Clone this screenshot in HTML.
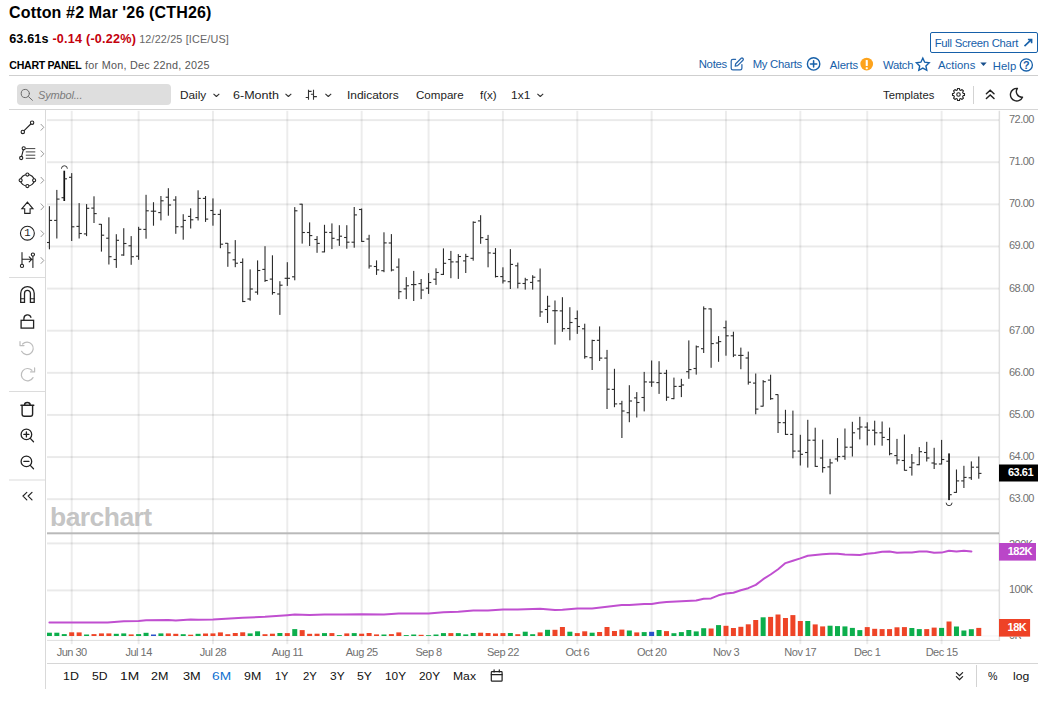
<!DOCTYPE html>
<html><head><meta charset="utf-8"><title>Cotton #2 Mar '26 (CTH26)</title>
<style>
html,body{margin:0;padding:0;background:#fff;}
body{width:1055px;height:713px;position:relative;overflow:hidden;font-family:"Liberation Sans",sans-serif;color:#000;}
.t{position:absolute;white-space:nowrap;line-height:1;}
.hr{position:absolute;background:#cfcfcf;height:1px;}
.vr{position:absolute;background:#d9d9d9;width:1px;}
.lnk{color:#1660a9;font-size:11.3px;}
.tb{font-size:11.5px;color:#1d1d1d;}
.ax{font-size:11px;color:#707070;letter-spacing:-0.55px;}
.xl{font-size:11px;color:#707070;text-align:center;width:60px;letter-spacing:-0.5px;}
.tag{font-size:11px;font-weight:bold;color:#fff;text-align:right;letter-spacing:-0.5px;}
.rg{font-size:11.6px;color:#111;}
</style></head><body>
<svg width="1055" height="713" viewBox="0 0 1055 713" style="position:absolute;left:0;top:0">
<rect x="47" y="119.10" width="952" height="2" fill="#000" fill-opacity="0.082"/>
<rect x="47" y="161.22" width="952" height="2" fill="#000" fill-opacity="0.082"/>
<rect x="47" y="203.34" width="952" height="2" fill="#000" fill-opacity="0.082"/>
<rect x="47" y="245.46" width="952" height="2" fill="#000" fill-opacity="0.082"/>
<rect x="47" y="287.58" width="952" height="2" fill="#000" fill-opacity="0.082"/>
<rect x="47" y="329.70" width="952" height="2" fill="#000" fill-opacity="0.082"/>
<rect x="47" y="371.82" width="952" height="2" fill="#000" fill-opacity="0.082"/>
<rect x="47" y="413.94" width="952" height="2" fill="#000" fill-opacity="0.082"/>
<rect x="47" y="456.06" width="952" height="2" fill="#000" fill-opacity="0.082"/>
<rect x="47" y="498.18" width="952" height="2" fill="#000" fill-opacity="0.082"/>
<rect x="47" y="542.40" width="952" height="2" fill="#000" fill-opacity="0.082"/>
<rect x="47" y="589.40" width="952" height="2" fill="#000" fill-opacity="0.082"/>
<rect x="47" y="635.4" width="952" height="1" fill="#000" fill-opacity="0.05"/>
<rect x="70.70" y="110.8" width="2" height="533.4" fill="#000" fill-opacity="0.076"/>
<rect x="137.62" y="110.8" width="2" height="533.4" fill="#000" fill-opacity="0.076"/>
<rect x="211.96" y="110.8" width="2" height="533.4" fill="#000" fill-opacity="0.076"/>
<rect x="286.31" y="110.8" width="2" height="533.4" fill="#000" fill-opacity="0.076"/>
<rect x="360.66" y="110.8" width="2" height="533.4" fill="#000" fill-opacity="0.076"/>
<rect x="427.58" y="110.8" width="2" height="533.4" fill="#000" fill-opacity="0.076"/>
<rect x="501.93" y="110.8" width="2" height="533.4" fill="#000" fill-opacity="0.076"/>
<rect x="576.28" y="110.8" width="2" height="533.4" fill="#000" fill-opacity="0.076"/>
<rect x="650.63" y="110.8" width="2" height="533.4" fill="#000" fill-opacity="0.076"/>
<rect x="724.98" y="110.8" width="2" height="533.4" fill="#000" fill-opacity="0.076"/>
<rect x="799.33" y="110.8" width="2" height="533.4" fill="#000" fill-opacity="0.076"/>
<rect x="866.25" y="110.8" width="2" height="533.4" fill="#000" fill-opacity="0.076"/>
<rect x="940.60" y="110.8" width="2" height="533.4" fill="#000" fill-opacity="0.076"/>
<rect x="47" y="532.3" width="952" height="2" fill="#b9b9b9"/>
<rect x="998.6" y="110.8" width="1.5" height="530.2" fill="#000" fill-opacity="0.125"/>
<rect x="47" y="639.9" width="951.6" height="1" fill="#000" fill-opacity="0.13"/>
<text x="50" y="526.3" font-family="Liberation Sans, sans-serif" font-weight="bold" font-size="26.5" letter-spacing="-0.55" fill="#bdbdbd" fill-opacity="0.9">barchart</text>
<path d="M49.4,622.4 L79.1,622.4 L107.6,622.4 L123.8,621.3 L138.6,620.9 L146.1,620.3 L168.4,620.0 L175.8,620.6 L190.7,619.5 L198.1,619.7 L213.1,619.5 L242.6,617.7 L265.0,616.8 L287.3,615.2 L294.8,614.6 L309.6,615.0 L324.5,614.6 L342.9,614.6 L361.6,614.2 L384.0,614.5 L398.7,613.6 L428.6,613.5 L443.4,612.3 L458.3,611.8 L473.3,610.6 L488.0,610.4 L503.0,609.6 L517.7,609.6 L540.1,608.8 L555.0,609.9 L562.4,609.8 L577.3,608.5 L592.1,608.5 L607.0,606.8 L621.8,605.0 L629.4,605.0 L644.2,604.0 L651.7,604.1 L659.1,602.7 L666.5,601.9 L681.4,601.2 L696.2,600.5 L703.7,598.7 L711.1,598.4 L718.5,595.3 L726.0,593.6 L733.4,592.7 L740.8,590.3 L748.2,588.2 L755.8,584.9 L763.2,579.2 L770.6,574.5 L778.1,569.2 L785.5,563.1 L792.9,560.7 L800.3,558.4 L807.8,555.8 L815.2,555.0 L822.5,554.3 L830.0,553.7 L837.6,553.7 L844.9,554.4 L852.4,554.7 L859.8,555.0 L867.1,553.7 L874.7,553.0 L882.2,551.8 L889.5,551.6 L897.0,552.7 L904.4,552.5 L911.9,552.4 L919.3,551.6 L926.8,551.6 L934.1,552.8 L941.6,552.6 L949.0,550.7 L956.5,551.4 L963.9,550.7 L971.4,551.4" fill="none" stroke="#c04fd0" stroke-width="2" stroke-linejoin="round" stroke-linecap="round"/>
<rect x="47.00" y="632.70" width="4.90" height="3.30" fill="#0cae4c"/>
<rect x="54.33" y="632.70" width="5.00" height="3.30" fill="#0cae4c"/>
<rect x="61.77" y="634.10" width="5.00" height="1.90" fill="#0cae4c"/>
<rect x="69.20" y="632.30" width="5.00" height="3.70" fill="#ee4427"/>
<rect x="76.64" y="632.40" width="5.00" height="3.60" fill="#ee4427"/>
<rect x="84.07" y="634.50" width="5.00" height="1.50" fill="#0cae4c"/>
<rect x="91.50" y="634.10" width="5.00" height="1.90" fill="#ee4427"/>
<rect x="98.94" y="633.40" width="5.00" height="2.60" fill="#ee4427"/>
<rect x="106.38" y="633.40" width="5.00" height="2.60" fill="#ee4427"/>
<rect x="113.81" y="633.80" width="5.00" height="2.20" fill="#0cae4c"/>
<rect x="121.25" y="633.40" width="5.00" height="2.60" fill="#0cae4c"/>
<rect x="128.68" y="634.40" width="5.00" height="1.60" fill="#ee4427"/>
<rect x="136.12" y="634.10" width="5.00" height="1.90" fill="#0cae4c"/>
<rect x="143.55" y="632.80" width="5.00" height="3.20" fill="#0cae4c"/>
<rect x="150.99" y="634.50" width="5.00" height="1.50" fill="#2a52c9"/>
<rect x="158.42" y="633.40" width="5.00" height="2.60" fill="#0cae4c"/>
<rect x="165.86" y="633.40" width="5.00" height="2.60" fill="#ee4427"/>
<rect x="173.29" y="633.80" width="5.00" height="2.20" fill="#ee4427"/>
<rect x="180.72" y="634.20" width="5.00" height="1.80" fill="#0cae4c"/>
<rect x="188.16" y="634.70" width="5.00" height="1.30" fill="#ee4427"/>
<rect x="195.59" y="633.80" width="5.00" height="2.20" fill="#0cae4c"/>
<rect x="203.03" y="633.50" width="5.00" height="2.50" fill="#ee4427"/>
<rect x="210.46" y="633.40" width="5.00" height="2.60" fill="#ee4427"/>
<rect x="217.90" y="632.40" width="5.00" height="3.60" fill="#ee4427"/>
<rect x="225.33" y="634.20" width="5.00" height="1.80" fill="#ee4427"/>
<rect x="232.77" y="633.00" width="5.00" height="3.00" fill="#ee4427"/>
<rect x="240.20" y="632.30" width="5.00" height="3.70" fill="#ee4427"/>
<rect x="247.64" y="633.40" width="5.00" height="2.60" fill="#0cae4c"/>
<rect x="255.07" y="631.30" width="5.00" height="4.70" fill="#0cae4c"/>
<rect x="262.51" y="634.20" width="5.00" height="1.80" fill="#ee4427"/>
<rect x="269.94" y="633.70" width="5.00" height="2.30" fill="#ee4427"/>
<rect x="277.38" y="633.00" width="5.00" height="3.00" fill="#0cae4c"/>
<rect x="284.81" y="633.10" width="5.00" height="2.90" fill="#ee4427"/>
<rect x="292.25" y="629.10" width="5.00" height="6.90" fill="#0cae4c"/>
<rect x="299.69" y="630.10" width="5.00" height="5.90" fill="#ee4427"/>
<rect x="307.12" y="633.80" width="5.00" height="2.20" fill="#ee4427"/>
<rect x="314.56" y="633.70" width="5.00" height="2.30" fill="#ee4427"/>
<rect x="321.99" y="633.10" width="5.00" height="2.90" fill="#0cae4c"/>
<rect x="329.42" y="633.10" width="5.00" height="2.90" fill="#ee4427"/>
<rect x="336.86" y="635.10" width="5.00" height="0.90" fill="#0cae4c"/>
<rect x="344.29" y="633.40" width="5.00" height="2.60" fill="#ee4427"/>
<rect x="351.73" y="633.10" width="5.00" height="2.90" fill="#0cae4c"/>
<rect x="359.16" y="633.70" width="5.00" height="2.30" fill="#ee4427"/>
<rect x="366.60" y="633.00" width="5.00" height="3.00" fill="#ee4427"/>
<rect x="374.03" y="634.40" width="5.00" height="1.60" fill="#ee4427"/>
<rect x="381.47" y="634.50" width="5.00" height="1.50" fill="#0cae4c"/>
<rect x="388.90" y="634.10" width="5.00" height="1.90" fill="#ee4427"/>
<rect x="396.34" y="632.40" width="5.00" height="3.60" fill="#ee4427"/>
<rect x="403.77" y="635.10" width="5.00" height="0.90" fill="#0cae4c"/>
<rect x="411.21" y="634.50" width="5.00" height="1.50" fill="#0cae4c"/>
<rect x="418.64" y="634.80" width="5.00" height="1.20" fill="#ee4427"/>
<rect x="426.08" y="635.20" width="5.00" height="0.80" fill="#0cae4c"/>
<rect x="433.51" y="634.50" width="5.00" height="1.50" fill="#0cae4c"/>
<rect x="440.95" y="633.10" width="5.00" height="2.90" fill="#0cae4c"/>
<rect x="448.38" y="633.10" width="5.00" height="2.90" fill="#ee4427"/>
<rect x="455.82" y="633.10" width="5.00" height="2.90" fill="#0cae4c"/>
<rect x="463.25" y="634.40" width="5.00" height="1.60" fill="#0cae4c"/>
<rect x="470.69" y="633.00" width="5.00" height="3.00" fill="#0cae4c"/>
<rect x="478.12" y="632.70" width="5.00" height="3.30" fill="#ee4427"/>
<rect x="485.56" y="633.00" width="5.00" height="3.00" fill="#ee4427"/>
<rect x="492.99" y="633.50" width="5.00" height="2.50" fill="#ee4427"/>
<rect x="500.43" y="633.10" width="5.00" height="2.90" fill="#ee4427"/>
<rect x="507.86" y="633.00" width="5.00" height="3.00" fill="#0cae4c"/>
<rect x="515.30" y="634.20" width="5.00" height="1.80" fill="#ee4427"/>
<rect x="522.74" y="631.70" width="5.00" height="4.30" fill="#0cae4c"/>
<rect x="530.17" y="634.20" width="5.00" height="1.80" fill="#0cae4c"/>
<rect x="537.61" y="632.40" width="5.00" height="3.60" fill="#ee4427"/>
<rect x="545.04" y="629.80" width="5.00" height="6.20" fill="#0cae4c"/>
<rect x="552.48" y="629.80" width="5.00" height="6.20" fill="#ee4427"/>
<rect x="559.91" y="627.00" width="5.00" height="9.00" fill="#ee4427"/>
<rect x="567.35" y="631.70" width="5.00" height="4.30" fill="#0cae4c"/>
<rect x="574.78" y="633.10" width="5.00" height="2.90" fill="#ee4427"/>
<rect x="582.22" y="631.30" width="5.00" height="4.70" fill="#ee4427"/>
<rect x="589.65" y="632.70" width="5.00" height="3.30" fill="#0cae4c"/>
<rect x="597.09" y="632.00" width="5.00" height="4.00" fill="#ee4427"/>
<rect x="604.52" y="627.00" width="5.00" height="9.00" fill="#ee4427"/>
<rect x="611.96" y="631.00" width="5.00" height="5.00" fill="#ee4427"/>
<rect x="619.39" y="629.60" width="5.00" height="6.40" fill="#ee4427"/>
<rect x="626.83" y="630.50" width="5.00" height="5.50" fill="#0cae4c"/>
<rect x="634.26" y="632.40" width="5.00" height="3.60" fill="#ee4427"/>
<rect x="641.70" y="632.10" width="5.00" height="3.90" fill="#0cae4c"/>
<rect x="649.13" y="631.80" width="5.00" height="4.20" fill="#2a52c9"/>
<rect x="656.57" y="630.00" width="5.00" height="6.00" fill="#0cae4c"/>
<rect x="664.00" y="631.10" width="5.00" height="4.90" fill="#ee4427"/>
<rect x="671.44" y="633.20" width="5.00" height="2.80" fill="#0cae4c"/>
<rect x="678.87" y="632.10" width="5.00" height="3.90" fill="#0cae4c"/>
<rect x="686.31" y="630.00" width="5.00" height="6.00" fill="#0cae4c"/>
<rect x="693.74" y="631.40" width="5.00" height="4.60" fill="#0cae4c"/>
<rect x="701.18" y="628.20" width="5.00" height="7.80" fill="#0cae4c"/>
<rect x="708.61" y="628.50" width="5.00" height="7.50" fill="#ee4427"/>
<rect x="716.04" y="625.10" width="5.00" height="10.90" fill="#0cae4c"/>
<rect x="723.48" y="625.80" width="5.00" height="10.20" fill="#ee4427"/>
<rect x="730.91" y="628.00" width="5.00" height="8.00" fill="#ee4427"/>
<rect x="738.35" y="626.80" width="5.00" height="9.20" fill="#ee4427"/>
<rect x="745.78" y="624.30" width="5.00" height="11.70" fill="#ee4427"/>
<rect x="753.22" y="620.00" width="5.00" height="16.00" fill="#ee4427"/>
<rect x="760.65" y="617.30" width="5.00" height="18.70" fill="#0cae4c"/>
<rect x="768.09" y="616.90" width="5.00" height="19.10" fill="#ee4427"/>
<rect x="775.52" y="614.50" width="5.00" height="21.50" fill="#ee4427"/>
<rect x="782.96" y="618.00" width="5.00" height="18.00" fill="#ee4427"/>
<rect x="790.39" y="615.10" width="5.00" height="20.90" fill="#ee4427"/>
<rect x="797.83" y="621.00" width="5.00" height="15.00" fill="#ee4427"/>
<rect x="805.26" y="621.00" width="5.00" height="15.00" fill="#0cae4c"/>
<rect x="812.70" y="624.40" width="5.00" height="11.60" fill="#ee4427"/>
<rect x="820.13" y="626.40" width="5.00" height="9.60" fill="#ee4427"/>
<rect x="827.57" y="625.70" width="5.00" height="10.30" fill="#0cae4c"/>
<rect x="835.00" y="626.10" width="5.00" height="9.90" fill="#0cae4c"/>
<rect x="842.44" y="626.40" width="5.00" height="9.60" fill="#0cae4c"/>
<rect x="849.88" y="627.90" width="5.00" height="8.10" fill="#0cae4c"/>
<rect x="857.31" y="630.10" width="5.00" height="5.90" fill="#0cae4c"/>
<rect x="864.75" y="627.10" width="5.00" height="8.90" fill="#ee4427"/>
<rect x="872.18" y="628.80" width="5.00" height="7.20" fill="#ee4427"/>
<rect x="879.62" y="629.10" width="5.00" height="6.90" fill="#ee4427"/>
<rect x="887.05" y="629.10" width="5.00" height="6.90" fill="#ee4427"/>
<rect x="894.49" y="627.30" width="5.00" height="8.70" fill="#ee4427"/>
<rect x="901.92" y="627.10" width="5.00" height="8.90" fill="#ee4427"/>
<rect x="909.36" y="628.00" width="5.00" height="8.00" fill="#0cae4c"/>
<rect x="916.79" y="629.10" width="5.00" height="6.90" fill="#0cae4c"/>
<rect x="924.23" y="629.10" width="5.00" height="6.90" fill="#ee4427"/>
<rect x="931.66" y="627.60" width="5.00" height="8.40" fill="#ee4427"/>
<rect x="939.10" y="627.90" width="5.00" height="8.10" fill="#0cae4c"/>
<rect x="946.53" y="621.50" width="5.00" height="14.50" fill="#ee4427"/>
<rect x="953.97" y="626.50" width="5.00" height="9.50" fill="#0cae4c"/>
<rect x="961.40" y="630.50" width="5.00" height="5.50" fill="#0cae4c"/>
<rect x="968.84" y="629.20" width="5.00" height="6.80" fill="#0cae4c"/>
<rect x="976.27" y="627.90" width="5.00" height="8.10" fill="#ee4427"/>
<rect x="48.85" y="206.20" width="1.1" height="43.10" fill="#2b2b2b"/>
<rect x="47.00" y="241.95" width="2.40" height="1.1" fill="#2b2b2b"/>
<rect x="49.40" y="219.85" width="2.7" height="1.1" fill="#2b2b2b"/>
<rect x="56.28" y="189.90" width="1.1" height="48.60" fill="#2b2b2b"/>
<rect x="54.13" y="219.85" width="2.70" height="1.1" fill="#2b2b2b"/>
<rect x="56.83" y="198.55" width="2.7" height="1.1" fill="#2b2b2b"/>
<rect x="63.41" y="170.70" width="1.7" height="30.30" fill="#111"/>
<rect x="61.56" y="197.15" width="2.70" height="1.1" fill="#2b2b2b"/>
<rect x="64.27" y="178.25" width="2.7" height="1.1" fill="#2b2b2b"/>
<rect x="71.15" y="173.10" width="1.1" height="67.90" fill="#2b2b2b"/>
<rect x="69.00" y="176.75" width="2.70" height="1.1" fill="#2b2b2b"/>
<rect x="71.70" y="226.25" width="2.7" height="1.1" fill="#2b2b2b"/>
<rect x="78.59" y="203.10" width="1.1" height="35.40" fill="#2b2b2b"/>
<rect x="76.44" y="225.85" width="2.70" height="1.1" fill="#2b2b2b"/>
<rect x="79.14" y="232.95" width="2.7" height="1.1" fill="#2b2b2b"/>
<rect x="86.02" y="204.10" width="1.1" height="32.00" fill="#2b2b2b"/>
<rect x="83.87" y="233.35" width="2.70" height="1.1" fill="#2b2b2b"/>
<rect x="86.57" y="207.75" width="2.7" height="1.1" fill="#2b2b2b"/>
<rect x="93.45" y="196.30" width="1.1" height="26.70" fill="#2b2b2b"/>
<rect x="91.30" y="207.55" width="2.70" height="1.1" fill="#2b2b2b"/>
<rect x="94.00" y="213.05" width="2.7" height="1.1" fill="#2b2b2b"/>
<rect x="100.89" y="224.00" width="1.1" height="27.60" fill="#2b2b2b"/>
<rect x="98.74" y="223.75" width="2.70" height="1.1" fill="#2b2b2b"/>
<rect x="101.44" y="234.65" width="2.7" height="1.1" fill="#2b2b2b"/>
<rect x="108.33" y="217.30" width="1.1" height="47.20" fill="#2b2b2b"/>
<rect x="106.17" y="237.65" width="2.70" height="1.1" fill="#2b2b2b"/>
<rect x="108.88" y="256.15" width="2.7" height="1.1" fill="#2b2b2b"/>
<rect x="115.76" y="234.20" width="1.1" height="33.70" fill="#2b2b2b"/>
<rect x="113.61" y="258.95" width="2.70" height="1.1" fill="#2b2b2b"/>
<rect x="116.31" y="239.75" width="2.7" height="1.1" fill="#2b2b2b"/>
<rect x="123.20" y="228.20" width="1.1" height="27.60" fill="#2b2b2b"/>
<rect x="121.05" y="254.45" width="2.70" height="1.1" fill="#2b2b2b"/>
<rect x="123.75" y="242.95" width="2.7" height="1.1" fill="#2b2b2b"/>
<rect x="130.63" y="236.10" width="1.1" height="28.70" fill="#2b2b2b"/>
<rect x="128.48" y="245.25" width="2.70" height="1.1" fill="#2b2b2b"/>
<rect x="131.18" y="256.15" width="2.7" height="1.1" fill="#2b2b2b"/>
<rect x="138.06" y="226.80" width="1.1" height="33.00" fill="#2b2b2b"/>
<rect x="135.92" y="255.65" width="2.70" height="1.1" fill="#2b2b2b"/>
<rect x="138.62" y="228.75" width="2.7" height="1.1" fill="#2b2b2b"/>
<rect x="145.50" y="194.80" width="1.1" height="43.90" fill="#2b2b2b"/>
<rect x="143.35" y="228.85" width="2.70" height="1.1" fill="#2b2b2b"/>
<rect x="146.05" y="210.25" width="2.7" height="1.1" fill="#2b2b2b"/>
<rect x="152.94" y="202.20" width="1.1" height="23.50" fill="#2b2b2b"/>
<rect x="150.79" y="210.65" width="2.70" height="1.1" fill="#2b2b2b"/>
<rect x="153.49" y="210.65" width="2.7" height="1.1" fill="#2b2b2b"/>
<rect x="160.37" y="196.00" width="1.1" height="24.40" fill="#2b2b2b"/>
<rect x="158.22" y="212.05" width="2.70" height="1.1" fill="#2b2b2b"/>
<rect x="160.92" y="200.25" width="2.7" height="1.1" fill="#2b2b2b"/>
<rect x="167.81" y="188.20" width="1.1" height="27.50" fill="#2b2b2b"/>
<rect x="165.66" y="196.65" width="2.70" height="1.1" fill="#2b2b2b"/>
<rect x="168.36" y="204.45" width="2.7" height="1.1" fill="#2b2b2b"/>
<rect x="175.24" y="196.20" width="1.1" height="37.60" fill="#2b2b2b"/>
<rect x="173.09" y="199.45" width="2.70" height="1.1" fill="#2b2b2b"/>
<rect x="175.79" y="226.15" width="2.7" height="1.1" fill="#2b2b2b"/>
<rect x="182.67" y="214.20" width="1.1" height="25.50" fill="#2b2b2b"/>
<rect x="180.53" y="226.25" width="2.70" height="1.1" fill="#2b2b2b"/>
<rect x="183.22" y="219.85" width="2.7" height="1.1" fill="#2b2b2b"/>
<rect x="190.11" y="208.30" width="1.1" height="20.20" fill="#2b2b2b"/>
<rect x="187.96" y="215.85" width="2.70" height="1.1" fill="#2b2b2b"/>
<rect x="190.66" y="219.25" width="2.7" height="1.1" fill="#2b2b2b"/>
<rect x="197.54" y="190.30" width="1.1" height="30.20" fill="#2b2b2b"/>
<rect x="195.40" y="217.05" width="2.70" height="1.1" fill="#2b2b2b"/>
<rect x="198.09" y="197.85" width="2.7" height="1.1" fill="#2b2b2b"/>
<rect x="204.98" y="196.00" width="1.1" height="25.90" fill="#2b2b2b"/>
<rect x="202.83" y="197.85" width="2.70" height="1.1" fill="#2b2b2b"/>
<rect x="205.53" y="218.55" width="2.7" height="1.1" fill="#2b2b2b"/>
<rect x="212.41" y="198.40" width="1.1" height="27.30" fill="#2b2b2b"/>
<rect x="210.26" y="209.95" width="2.70" height="1.1" fill="#2b2b2b"/>
<rect x="212.96" y="213.85" width="2.7" height="1.1" fill="#2b2b2b"/>
<rect x="219.85" y="209.40" width="1.1" height="38.80" fill="#2b2b2b"/>
<rect x="217.70" y="213.85" width="2.70" height="1.1" fill="#2b2b2b"/>
<rect x="220.40" y="243.65" width="2.7" height="1.1" fill="#2b2b2b"/>
<rect x="227.28" y="243.00" width="1.1" height="23.80" fill="#2b2b2b"/>
<rect x="225.13" y="242.75" width="2.70" height="1.1" fill="#2b2b2b"/>
<rect x="227.83" y="252.25" width="2.7" height="1.1" fill="#2b2b2b"/>
<rect x="234.72" y="240.10" width="1.1" height="27.10" fill="#2b2b2b"/>
<rect x="232.57" y="259.25" width="2.70" height="1.1" fill="#2b2b2b"/>
<rect x="235.27" y="262.65" width="2.7" height="1.1" fill="#2b2b2b"/>
<rect x="242.15" y="258.40" width="1.1" height="43.70" fill="#2b2b2b"/>
<rect x="240.00" y="261.85" width="2.70" height="1.1" fill="#2b2b2b"/>
<rect x="242.70" y="300.95" width="2.7" height="1.1" fill="#2b2b2b"/>
<rect x="249.59" y="269.40" width="1.1" height="31.30" fill="#2b2b2b"/>
<rect x="247.44" y="298.45" width="2.70" height="1.1" fill="#2b2b2b"/>
<rect x="250.14" y="288.45" width="2.7" height="1.1" fill="#2b2b2b"/>
<rect x="257.02" y="260.40" width="1.1" height="34.30" fill="#2b2b2b"/>
<rect x="254.88" y="291.55" width="2.70" height="1.1" fill="#2b2b2b"/>
<rect x="257.57" y="269.95" width="2.7" height="1.1" fill="#2b2b2b"/>
<rect x="264.46" y="246.20" width="1.1" height="35.70" fill="#2b2b2b"/>
<rect x="262.31" y="268.85" width="2.70" height="1.1" fill="#2b2b2b"/>
<rect x="265.01" y="279.95" width="2.7" height="1.1" fill="#2b2b2b"/>
<rect x="271.89" y="255.30" width="1.1" height="39.40" fill="#2b2b2b"/>
<rect x="269.75" y="278.55" width="2.70" height="1.1" fill="#2b2b2b"/>
<rect x="272.44" y="292.05" width="2.7" height="1.1" fill="#2b2b2b"/>
<rect x="279.33" y="281.20" width="1.1" height="33.70" fill="#2b2b2b"/>
<rect x="277.18" y="293.45" width="2.70" height="1.1" fill="#2b2b2b"/>
<rect x="279.88" y="284.65" width="2.7" height="1.1" fill="#2b2b2b"/>
<rect x="286.76" y="262.20" width="1.1" height="23.70" fill="#2b2b2b"/>
<rect x="284.62" y="277.75" width="2.70" height="1.1" fill="#2b2b2b"/>
<rect x="287.31" y="277.75" width="2.7" height="1.1" fill="#2b2b2b"/>
<rect x="294.20" y="207.10" width="1.1" height="73.20" fill="#2b2b2b"/>
<rect x="292.05" y="276.25" width="2.70" height="1.1" fill="#2b2b2b"/>
<rect x="294.75" y="210.25" width="2.7" height="1.1" fill="#2b2b2b"/>
<rect x="301.63" y="203.80" width="1.1" height="39.80" fill="#2b2b2b"/>
<rect x="299.49" y="203.65" width="2.70" height="1.1" fill="#2b2b2b"/>
<rect x="302.19" y="231.95" width="2.7" height="1.1" fill="#2b2b2b"/>
<rect x="309.07" y="222.40" width="1.1" height="23.60" fill="#2b2b2b"/>
<rect x="306.92" y="231.95" width="2.70" height="1.1" fill="#2b2b2b"/>
<rect x="309.62" y="235.05" width="2.7" height="1.1" fill="#2b2b2b"/>
<rect x="316.50" y="236.10" width="1.1" height="16.70" fill="#2b2b2b"/>
<rect x="314.36" y="238.95" width="2.70" height="1.1" fill="#2b2b2b"/>
<rect x="317.06" y="242.85" width="2.7" height="1.1" fill="#2b2b2b"/>
<rect x="323.94" y="224.80" width="1.1" height="27.50" fill="#2b2b2b"/>
<rect x="321.79" y="251.35" width="2.70" height="1.1" fill="#2b2b2b"/>
<rect x="324.49" y="231.75" width="2.7" height="1.1" fill="#2b2b2b"/>
<rect x="331.37" y="223.40" width="1.1" height="25.70" fill="#2b2b2b"/>
<rect x="329.22" y="231.95" width="2.70" height="1.1" fill="#2b2b2b"/>
<rect x="331.92" y="237.75" width="2.7" height="1.1" fill="#2b2b2b"/>
<rect x="338.81" y="225.20" width="1.1" height="20.70" fill="#2b2b2b"/>
<rect x="336.66" y="239.25" width="2.70" height="1.1" fill="#2b2b2b"/>
<rect x="339.36" y="235.65" width="2.7" height="1.1" fill="#2b2b2b"/>
<rect x="346.24" y="225.20" width="1.1" height="23.50" fill="#2b2b2b"/>
<rect x="344.09" y="236.95" width="2.70" height="1.1" fill="#2b2b2b"/>
<rect x="346.79" y="241.65" width="2.7" height="1.1" fill="#2b2b2b"/>
<rect x="353.68" y="207.00" width="1.1" height="40.70" fill="#2b2b2b"/>
<rect x="351.53" y="241.65" width="2.70" height="1.1" fill="#2b2b2b"/>
<rect x="354.23" y="214.35" width="2.7" height="1.1" fill="#2b2b2b"/>
<rect x="361.11" y="208.50" width="1.1" height="33.40" fill="#2b2b2b"/>
<rect x="358.96" y="208.95" width="2.70" height="1.1" fill="#2b2b2b"/>
<rect x="361.66" y="240.85" width="2.7" height="1.1" fill="#2b2b2b"/>
<rect x="368.55" y="234.80" width="1.1" height="33.80" fill="#2b2b2b"/>
<rect x="366.40" y="238.45" width="2.70" height="1.1" fill="#2b2b2b"/>
<rect x="369.10" y="265.45" width="2.7" height="1.1" fill="#2b2b2b"/>
<rect x="375.98" y="260.40" width="1.1" height="14.50" fill="#2b2b2b"/>
<rect x="373.83" y="265.95" width="2.70" height="1.1" fill="#2b2b2b"/>
<rect x="376.53" y="269.35" width="2.7" height="1.1" fill="#2b2b2b"/>
<rect x="383.42" y="232.30" width="1.1" height="39.90" fill="#2b2b2b"/>
<rect x="381.27" y="270.15" width="2.70" height="1.1" fill="#2b2b2b"/>
<rect x="383.97" y="242.35" width="2.7" height="1.1" fill="#2b2b2b"/>
<rect x="390.85" y="234.10" width="1.1" height="37.30" fill="#2b2b2b"/>
<rect x="388.70" y="242.45" width="2.70" height="1.1" fill="#2b2b2b"/>
<rect x="391.40" y="269.45" width="2.7" height="1.1" fill="#2b2b2b"/>
<rect x="398.29" y="258.40" width="1.1" height="40.70" fill="#2b2b2b"/>
<rect x="396.14" y="266.55" width="2.70" height="1.1" fill="#2b2b2b"/>
<rect x="398.84" y="291.15" width="2.7" height="1.1" fill="#2b2b2b"/>
<rect x="405.72" y="277.10" width="1.1" height="22.00" fill="#2b2b2b"/>
<rect x="403.57" y="288.35" width="2.70" height="1.1" fill="#2b2b2b"/>
<rect x="406.27" y="285.25" width="2.7" height="1.1" fill="#2b2b2b"/>
<rect x="413.16" y="270.90" width="1.1" height="30.10" fill="#2b2b2b"/>
<rect x="411.01" y="284.05" width="2.70" height="1.1" fill="#2b2b2b"/>
<rect x="413.71" y="284.05" width="2.7" height="1.1" fill="#2b2b2b"/>
<rect x="420.59" y="279.00" width="1.1" height="20.10" fill="#2b2b2b"/>
<rect x="418.44" y="283.05" width="2.70" height="1.1" fill="#2b2b2b"/>
<rect x="421.14" y="289.45" width="2.7" height="1.1" fill="#2b2b2b"/>
<rect x="428.03" y="273.10" width="1.1" height="20.80" fill="#2b2b2b"/>
<rect x="425.88" y="287.65" width="2.70" height="1.1" fill="#2b2b2b"/>
<rect x="428.58" y="281.95" width="2.7" height="1.1" fill="#2b2b2b"/>
<rect x="435.46" y="268.30" width="1.1" height="16.60" fill="#2b2b2b"/>
<rect x="433.31" y="278.65" width="2.70" height="1.1" fill="#2b2b2b"/>
<rect x="436.01" y="271.95" width="2.7" height="1.1" fill="#2b2b2b"/>
<rect x="442.90" y="248.40" width="1.1" height="26.60" fill="#2b2b2b"/>
<rect x="440.75" y="273.85" width="2.70" height="1.1" fill="#2b2b2b"/>
<rect x="443.45" y="262.75" width="2.7" height="1.1" fill="#2b2b2b"/>
<rect x="450.33" y="250.90" width="1.1" height="27.30" fill="#2b2b2b"/>
<rect x="448.19" y="258.95" width="2.70" height="1.1" fill="#2b2b2b"/>
<rect x="450.88" y="261.35" width="2.7" height="1.1" fill="#2b2b2b"/>
<rect x="457.77" y="254.10" width="1.1" height="24.80" fill="#2b2b2b"/>
<rect x="455.62" y="261.35" width="2.70" height="1.1" fill="#2b2b2b"/>
<rect x="458.32" y="255.95" width="2.7" height="1.1" fill="#2b2b2b"/>
<rect x="465.20" y="253.80" width="1.1" height="19.20" fill="#2b2b2b"/>
<rect x="463.06" y="260.35" width="2.70" height="1.1" fill="#2b2b2b"/>
<rect x="465.75" y="255.95" width="2.7" height="1.1" fill="#2b2b2b"/>
<rect x="472.64" y="221.40" width="1.1" height="39.30" fill="#2b2b2b"/>
<rect x="470.49" y="257.75" width="2.70" height="1.1" fill="#2b2b2b"/>
<rect x="473.19" y="221.75" width="2.7" height="1.1" fill="#2b2b2b"/>
<rect x="480.07" y="215.20" width="1.1" height="28.60" fill="#2b2b2b"/>
<rect x="477.92" y="220.35" width="2.70" height="1.1" fill="#2b2b2b"/>
<rect x="480.62" y="237.15" width="2.7" height="1.1" fill="#2b2b2b"/>
<rect x="487.51" y="234.90" width="1.1" height="32.40" fill="#2b2b2b"/>
<rect x="485.36" y="238.85" width="2.70" height="1.1" fill="#2b2b2b"/>
<rect x="488.06" y="252.35" width="2.7" height="1.1" fill="#2b2b2b"/>
<rect x="494.94" y="248.10" width="1.1" height="29.40" fill="#2b2b2b"/>
<rect x="492.79" y="252.75" width="2.70" height="1.1" fill="#2b2b2b"/>
<rect x="495.49" y="275.95" width="2.7" height="1.1" fill="#2b2b2b"/>
<rect x="502.38" y="267.30" width="1.1" height="16.20" fill="#2b2b2b"/>
<rect x="500.23" y="276.05" width="2.70" height="1.1" fill="#2b2b2b"/>
<rect x="502.93" y="280.35" width="2.7" height="1.1" fill="#2b2b2b"/>
<rect x="509.81" y="249.10" width="1.1" height="39.90" fill="#2b2b2b"/>
<rect x="507.66" y="281.15" width="2.70" height="1.1" fill="#2b2b2b"/>
<rect x="510.36" y="263.85" width="2.7" height="1.1" fill="#2b2b2b"/>
<rect x="517.25" y="262.60" width="1.1" height="25.80" fill="#2b2b2b"/>
<rect x="515.10" y="265.25" width="2.70" height="1.1" fill="#2b2b2b"/>
<rect x="517.80" y="282.75" width="2.7" height="1.1" fill="#2b2b2b"/>
<rect x="524.69" y="277.80" width="1.1" height="11.80" fill="#2b2b2b"/>
<rect x="522.53" y="282.95" width="2.70" height="1.1" fill="#2b2b2b"/>
<rect x="525.24" y="279.25" width="2.7" height="1.1" fill="#2b2b2b"/>
<rect x="532.12" y="275.20" width="1.1" height="14.40" fill="#2b2b2b"/>
<rect x="529.97" y="281.85" width="2.70" height="1.1" fill="#2b2b2b"/>
<rect x="532.67" y="276.65" width="2.7" height="1.1" fill="#2b2b2b"/>
<rect x="539.56" y="268.50" width="1.1" height="48.40" fill="#2b2b2b"/>
<rect x="537.40" y="280.35" width="2.70" height="1.1" fill="#2b2b2b"/>
<rect x="540.11" y="311.35" width="2.7" height="1.1" fill="#2b2b2b"/>
<rect x="546.99" y="295.80" width="1.1" height="27.20" fill="#2b2b2b"/>
<rect x="544.84" y="308.95" width="2.70" height="1.1" fill="#2b2b2b"/>
<rect x="547.54" y="305.65" width="2.7" height="1.1" fill="#2b2b2b"/>
<rect x="554.43" y="300.50" width="1.1" height="44.10" fill="#2b2b2b"/>
<rect x="552.27" y="310.15" width="2.70" height="1.1" fill="#2b2b2b"/>
<rect x="554.98" y="310.15" width="2.7" height="1.1" fill="#2b2b2b"/>
<rect x="561.86" y="297.20" width="1.1" height="34.60" fill="#2b2b2b"/>
<rect x="559.71" y="310.35" width="2.70" height="1.1" fill="#2b2b2b"/>
<rect x="562.41" y="328.15" width="2.7" height="1.1" fill="#2b2b2b"/>
<rect x="569.30" y="307.20" width="1.1" height="33.10" fill="#2b2b2b"/>
<rect x="567.14" y="327.95" width="2.70" height="1.1" fill="#2b2b2b"/>
<rect x="569.85" y="321.95" width="2.7" height="1.1" fill="#2b2b2b"/>
<rect x="576.73" y="310.50" width="1.1" height="23.40" fill="#2b2b2b"/>
<rect x="574.58" y="318.05" width="2.70" height="1.1" fill="#2b2b2b"/>
<rect x="577.28" y="325.95" width="2.7" height="1.1" fill="#2b2b2b"/>
<rect x="584.17" y="323.70" width="1.1" height="35.00" fill="#2b2b2b"/>
<rect x="582.01" y="328.25" width="2.70" height="1.1" fill="#2b2b2b"/>
<rect x="584.72" y="356.15" width="2.7" height="1.1" fill="#2b2b2b"/>
<rect x="591.60" y="339.70" width="1.1" height="30.30" fill="#2b2b2b"/>
<rect x="589.45" y="357.15" width="2.70" height="1.1" fill="#2b2b2b"/>
<rect x="592.15" y="339.95" width="2.7" height="1.1" fill="#2b2b2b"/>
<rect x="599.04" y="326.40" width="1.1" height="34.60" fill="#2b2b2b"/>
<rect x="596.88" y="339.75" width="2.70" height="1.1" fill="#2b2b2b"/>
<rect x="599.59" y="357.55" width="2.7" height="1.1" fill="#2b2b2b"/>
<rect x="606.47" y="349.90" width="1.1" height="59.10" fill="#2b2b2b"/>
<rect x="604.32" y="357.55" width="2.70" height="1.1" fill="#2b2b2b"/>
<rect x="607.02" y="388.65" width="2.7" height="1.1" fill="#2b2b2b"/>
<rect x="613.91" y="368.80" width="1.1" height="38.40" fill="#2b2b2b"/>
<rect x="611.75" y="388.85" width="2.70" height="1.1" fill="#2b2b2b"/>
<rect x="614.46" y="403.35" width="2.7" height="1.1" fill="#2b2b2b"/>
<rect x="621.34" y="400.80" width="1.1" height="37.20" fill="#2b2b2b"/>
<rect x="619.19" y="403.25" width="2.70" height="1.1" fill="#2b2b2b"/>
<rect x="621.89" y="410.45" width="2.7" height="1.1" fill="#2b2b2b"/>
<rect x="628.78" y="385.20" width="1.1" height="37.00" fill="#2b2b2b"/>
<rect x="626.62" y="412.15" width="2.70" height="1.1" fill="#2b2b2b"/>
<rect x="629.33" y="400.45" width="2.7" height="1.1" fill="#2b2b2b"/>
<rect x="636.21" y="392.10" width="1.1" height="25.40" fill="#2b2b2b"/>
<rect x="634.06" y="397.35" width="2.70" height="1.1" fill="#2b2b2b"/>
<rect x="636.76" y="401.95" width="2.7" height="1.1" fill="#2b2b2b"/>
<rect x="643.65" y="371.90" width="1.1" height="39.50" fill="#2b2b2b"/>
<rect x="641.50" y="396.95" width="2.70" height="1.1" fill="#2b2b2b"/>
<rect x="644.20" y="381.35" width="2.7" height="1.1" fill="#2b2b2b"/>
<rect x="651.08" y="360.50" width="1.1" height="26.30" fill="#2b2b2b"/>
<rect x="648.93" y="381.55" width="2.70" height="1.1" fill="#2b2b2b"/>
<rect x="651.63" y="381.55" width="2.7" height="1.1" fill="#2b2b2b"/>
<rect x="658.52" y="361.20" width="1.1" height="32.70" fill="#2b2b2b"/>
<rect x="656.37" y="382.05" width="2.70" height="1.1" fill="#2b2b2b"/>
<rect x="659.07" y="372.75" width="2.7" height="1.1" fill="#2b2b2b"/>
<rect x="665.95" y="369.80" width="1.1" height="31.00" fill="#2b2b2b"/>
<rect x="663.80" y="372.75" width="2.70" height="1.1" fill="#2b2b2b"/>
<rect x="666.50" y="396.65" width="2.7" height="1.1" fill="#2b2b2b"/>
<rect x="673.39" y="377.60" width="1.1" height="21.60" fill="#2b2b2b"/>
<rect x="671.24" y="398.05" width="2.70" height="1.1" fill="#2b2b2b"/>
<rect x="673.94" y="385.85" width="2.7" height="1.1" fill="#2b2b2b"/>
<rect x="680.82" y="378.80" width="1.1" height="18.30" fill="#2b2b2b"/>
<rect x="678.67" y="385.85" width="2.70" height="1.1" fill="#2b2b2b"/>
<rect x="681.37" y="384.45" width="2.7" height="1.1" fill="#2b2b2b"/>
<rect x="688.26" y="340.40" width="1.1" height="38.40" fill="#2b2b2b"/>
<rect x="686.11" y="371.15" width="2.70" height="1.1" fill="#2b2b2b"/>
<rect x="688.81" y="369.05" width="2.7" height="1.1" fill="#2b2b2b"/>
<rect x="695.69" y="345.50" width="1.1" height="29.10" fill="#2b2b2b"/>
<rect x="693.54" y="367.95" width="2.70" height="1.1" fill="#2b2b2b"/>
<rect x="696.24" y="346.25" width="2.7" height="1.1" fill="#2b2b2b"/>
<rect x="703.13" y="306.40" width="1.1" height="46.60" fill="#2b2b2b"/>
<rect x="700.98" y="348.15" width="2.70" height="1.1" fill="#2b2b2b"/>
<rect x="703.68" y="308.25" width="2.7" height="1.1" fill="#2b2b2b"/>
<rect x="710.56" y="308.50" width="1.1" height="59.30" fill="#2b2b2b"/>
<rect x="708.41" y="308.35" width="2.70" height="1.1" fill="#2b2b2b"/>
<rect x="711.11" y="343.05" width="2.7" height="1.1" fill="#2b2b2b"/>
<rect x="718.00" y="336.10" width="1.1" height="25.70" fill="#2b2b2b"/>
<rect x="715.84" y="342.45" width="2.70" height="1.1" fill="#2b2b2b"/>
<rect x="718.54" y="341.05" width="2.7" height="1.1" fill="#2b2b2b"/>
<rect x="725.43" y="320.60" width="1.1" height="35.10" fill="#2b2b2b"/>
<rect x="723.28" y="327.15" width="2.70" height="1.1" fill="#2b2b2b"/>
<rect x="725.98" y="335.25" width="2.7" height="1.1" fill="#2b2b2b"/>
<rect x="732.87" y="331.70" width="1.1" height="25.40" fill="#2b2b2b"/>
<rect x="730.71" y="335.25" width="2.70" height="1.1" fill="#2b2b2b"/>
<rect x="733.41" y="354.55" width="2.7" height="1.1" fill="#2b2b2b"/>
<rect x="740.30" y="347.60" width="1.1" height="21.60" fill="#2b2b2b"/>
<rect x="738.15" y="354.85" width="2.70" height="1.1" fill="#2b2b2b"/>
<rect x="740.85" y="354.85" width="2.7" height="1.1" fill="#2b2b2b"/>
<rect x="747.74" y="351.60" width="1.1" height="33.00" fill="#2b2b2b"/>
<rect x="745.58" y="357.45" width="2.70" height="1.1" fill="#2b2b2b"/>
<rect x="748.28" y="381.65" width="2.7" height="1.1" fill="#2b2b2b"/>
<rect x="755.17" y="373.50" width="1.1" height="40.80" fill="#2b2b2b"/>
<rect x="753.02" y="382.55" width="2.70" height="1.1" fill="#2b2b2b"/>
<rect x="755.72" y="408.55" width="2.7" height="1.1" fill="#2b2b2b"/>
<rect x="762.61" y="380.10" width="1.1" height="26.40" fill="#2b2b2b"/>
<rect x="760.45" y="405.65" width="2.70" height="1.1" fill="#2b2b2b"/>
<rect x="763.15" y="381.15" width="2.7" height="1.1" fill="#2b2b2b"/>
<rect x="770.04" y="374.70" width="1.1" height="25.10" fill="#2b2b2b"/>
<rect x="767.89" y="379.55" width="2.70" height="1.1" fill="#2b2b2b"/>
<rect x="770.59" y="398.15" width="2.7" height="1.1" fill="#2b2b2b"/>
<rect x="777.48" y="394.40" width="1.1" height="38.60" fill="#2b2b2b"/>
<rect x="775.32" y="394.05" width="2.70" height="1.1" fill="#2b2b2b"/>
<rect x="778.02" y="422.05" width="2.7" height="1.1" fill="#2b2b2b"/>
<rect x="784.91" y="409.80" width="1.1" height="25.20" fill="#2b2b2b"/>
<rect x="782.76" y="422.15" width="2.70" height="1.1" fill="#2b2b2b"/>
<rect x="785.46" y="433.85" width="2.7" height="1.1" fill="#2b2b2b"/>
<rect x="792.35" y="410.60" width="1.1" height="47.70" fill="#2b2b2b"/>
<rect x="790.19" y="433.85" width="2.70" height="1.1" fill="#2b2b2b"/>
<rect x="792.89" y="450.55" width="2.7" height="1.1" fill="#2b2b2b"/>
<rect x="799.78" y="434.80" width="1.1" height="30.70" fill="#2b2b2b"/>
<rect x="797.63" y="450.55" width="2.70" height="1.1" fill="#2b2b2b"/>
<rect x="800.33" y="453.75" width="2.7" height="1.1" fill="#2b2b2b"/>
<rect x="807.22" y="419.80" width="1.1" height="47.80" fill="#2b2b2b"/>
<rect x="805.06" y="451.95" width="2.70" height="1.1" fill="#2b2b2b"/>
<rect x="807.76" y="439.65" width="2.7" height="1.1" fill="#2b2b2b"/>
<rect x="814.65" y="427.70" width="1.1" height="39.20" fill="#2b2b2b"/>
<rect x="812.50" y="439.65" width="2.70" height="1.1" fill="#2b2b2b"/>
<rect x="815.20" y="465.85" width="2.7" height="1.1" fill="#2b2b2b"/>
<rect x="822.09" y="439.60" width="1.1" height="33.00" fill="#2b2b2b"/>
<rect x="819.93" y="457.45" width="2.70" height="1.1" fill="#2b2b2b"/>
<rect x="822.63" y="467.05" width="2.7" height="1.1" fill="#2b2b2b"/>
<rect x="829.52" y="458.80" width="1.1" height="35.50" fill="#2b2b2b"/>
<rect x="827.37" y="466.35" width="2.70" height="1.1" fill="#2b2b2b"/>
<rect x="830.07" y="462.35" width="2.7" height="1.1" fill="#2b2b2b"/>
<rect x="836.96" y="438.10" width="1.1" height="23.50" fill="#2b2b2b"/>
<rect x="834.80" y="458.45" width="2.70" height="1.1" fill="#2b2b2b"/>
<rect x="837.50" y="456.05" width="2.7" height="1.1" fill="#2b2b2b"/>
<rect x="844.39" y="428.50" width="1.1" height="31.30" fill="#2b2b2b"/>
<rect x="842.24" y="455.75" width="2.70" height="1.1" fill="#2b2b2b"/>
<rect x="844.94" y="446.65" width="2.7" height="1.1" fill="#2b2b2b"/>
<rect x="851.83" y="421.80" width="1.1" height="34.70" fill="#2b2b2b"/>
<rect x="849.67" y="446.65" width="2.70" height="1.1" fill="#2b2b2b"/>
<rect x="852.38" y="432.25" width="2.7" height="1.1" fill="#2b2b2b"/>
<rect x="859.26" y="416.80" width="1.1" height="22.60" fill="#2b2b2b"/>
<rect x="857.11" y="428.35" width="2.70" height="1.1" fill="#2b2b2b"/>
<rect x="859.81" y="426.45" width="2.7" height="1.1" fill="#2b2b2b"/>
<rect x="866.70" y="422.30" width="1.1" height="23.10" fill="#2b2b2b"/>
<rect x="864.54" y="426.55" width="2.70" height="1.1" fill="#2b2b2b"/>
<rect x="867.25" y="429.65" width="2.7" height="1.1" fill="#2b2b2b"/>
<rect x="874.13" y="420.70" width="1.1" height="24.60" fill="#2b2b2b"/>
<rect x="871.98" y="429.65" width="2.70" height="1.1" fill="#2b2b2b"/>
<rect x="874.68" y="432.25" width="2.7" height="1.1" fill="#2b2b2b"/>
<rect x="881.57" y="421.50" width="1.1" height="24.20" fill="#2b2b2b"/>
<rect x="879.41" y="432.25" width="2.70" height="1.1" fill="#2b2b2b"/>
<rect x="882.12" y="436.85" width="2.7" height="1.1" fill="#2b2b2b"/>
<rect x="889.00" y="427.60" width="1.1" height="27.70" fill="#2b2b2b"/>
<rect x="886.85" y="439.05" width="2.70" height="1.1" fill="#2b2b2b"/>
<rect x="889.55" y="453.15" width="2.7" height="1.1" fill="#2b2b2b"/>
<rect x="896.44" y="438.90" width="1.1" height="25.40" fill="#2b2b2b"/>
<rect x="894.28" y="455.05" width="2.70" height="1.1" fill="#2b2b2b"/>
<rect x="896.99" y="459.45" width="2.7" height="1.1" fill="#2b2b2b"/>
<rect x="903.87" y="434.50" width="1.1" height="36.10" fill="#2b2b2b"/>
<rect x="901.72" y="459.95" width="2.70" height="1.1" fill="#2b2b2b"/>
<rect x="904.42" y="469.75" width="2.7" height="1.1" fill="#2b2b2b"/>
<rect x="911.31" y="454.00" width="1.1" height="21.60" fill="#2b2b2b"/>
<rect x="909.15" y="466.75" width="2.70" height="1.1" fill="#2b2b2b"/>
<rect x="911.86" y="462.35" width="2.7" height="1.1" fill="#2b2b2b"/>
<rect x="918.74" y="447.10" width="1.1" height="18.10" fill="#2b2b2b"/>
<rect x="916.59" y="464.15" width="2.70" height="1.1" fill="#2b2b2b"/>
<rect x="919.29" y="451.15" width="2.7" height="1.1" fill="#2b2b2b"/>
<rect x="926.18" y="441.80" width="1.1" height="19.70" fill="#2b2b2b"/>
<rect x="924.02" y="451.95" width="2.70" height="1.1" fill="#2b2b2b"/>
<rect x="926.73" y="457.45" width="2.7" height="1.1" fill="#2b2b2b"/>
<rect x="933.61" y="447.80" width="1.1" height="21.20" fill="#2b2b2b"/>
<rect x="931.46" y="462.45" width="2.70" height="1.1" fill="#2b2b2b"/>
<rect x="934.16" y="463.45" width="2.7" height="1.1" fill="#2b2b2b"/>
<rect x="941.05" y="439.90" width="1.1" height="24.50" fill="#2b2b2b"/>
<rect x="938.89" y="463.45" width="2.70" height="1.1" fill="#2b2b2b"/>
<rect x="941.60" y="458.95" width="2.7" height="1.1" fill="#2b2b2b"/>
<rect x="948.18" y="453.40" width="1.7" height="46.70" fill="#111"/>
<rect x="946.33" y="460.65" width="2.70" height="1.1" fill="#2b2b2b"/>
<rect x="949.03" y="494.15" width="2.7" height="1.1" fill="#2b2b2b"/>
<rect x="955.92" y="469.50" width="1.1" height="23.30" fill="#2b2b2b"/>
<rect x="953.76" y="491.85" width="2.70" height="1.1" fill="#2b2b2b"/>
<rect x="956.47" y="480.35" width="2.7" height="1.1" fill="#2b2b2b"/>
<rect x="963.35" y="465.80" width="1.1" height="22.20" fill="#2b2b2b"/>
<rect x="961.20" y="480.35" width="2.70" height="1.1" fill="#2b2b2b"/>
<rect x="963.90" y="476.85" width="2.7" height="1.1" fill="#2b2b2b"/>
<rect x="970.79" y="461.40" width="1.1" height="18.50" fill="#2b2b2b"/>
<rect x="968.63" y="477.25" width="2.70" height="1.1" fill="#2b2b2b"/>
<rect x="971.34" y="466.65" width="2.7" height="1.1" fill="#2b2b2b"/>
<rect x="978.22" y="456.50" width="1.1" height="22.20" fill="#2b2b2b"/>
<rect x="976.07" y="466.65" width="2.70" height="1.1" fill="#2b2b2b"/>
<rect x="978.77" y="472.85" width="2.7" height="1.1" fill="#2b2b2b"/>
<path d="M61.45,168.7 A2.95,2.95 0 0 1 67.35,168.7" fill="none" stroke="#222" stroke-width="0.9"/>
<path d="M946.15,502.7 A2.95,2.95 0 0 0 952.05,502.7" fill="none" stroke="#222" stroke-width="0.9"/>
<rect x="999" y="464.5" width="39" height="17" fill="#000"/>
<rect x="999" y="543" width="37" height="17.6" fill="#ba46c8"/>
<rect x="999" y="619" width="31.1" height="17.6" fill="#ee4226"/>
</svg>
<!-- header -->
<div class="t" id="title" style="left:9.03px;letter-spacing:0.160px;top:5.1px;font-size:16px;font-weight:bold;">Cotton #2 Mar '26 (CTH26)</div>
<div class="t" id="px1" style="left:9.20px;letter-spacing:0.154px;top:32.5px;font-size:12.6px;font-weight:bold;">63.61s</div>
<div class="t" id="px2" style="left:52.38px;letter-spacing:0.231px;top:32.5px;font-size:12.6px;font-weight:bold;color:#c4000c;">-0.14 (-0.22%)</div>
<div class="t" id="px3" style="left:139.20px;letter-spacing:0.166px;top:34.3px;font-size:10.8px;color:#666;">12/22/25 [ICE/US]</div>
<div class="t" id="cp1" style="left:9.27px;letter-spacing:-0.280px;top:59.6px;font-size:10.6px;font-weight:bold;">CHART PANEL</div>
<div class="t" id="cp2" style="left:85.10px;letter-spacing:0.250px;top:60px;font-size:10.8px;color:#555;">for Mon, Dec 22nd, 2025</div>
<div class="hr" style="left:9px;top:75px;width:1029px;"></div>
<div class="hr" style="left:9px;top:109px;width:1029px;background:#d6d6d6;"></div>
<div class="hr" style="left:47px;top:663px;width:991px;background:#d6d6d6;"></div>
<div class="vr" style="left:45px;top:110px;height:579px;"></div>
<!-- full screen button -->
<div style="position:absolute;left:930px;top:32px;width:106px;height:19px;border:1px solid #1660a9;border-radius:2px;"></div>
<div class="t lnk" id="fsc" style="left:934.63px;letter-spacing:-0.266px;top:38px;">Full Screen Chart</div>
<!-- links -->
<div class="t lnk" id="l1" style="left:698.69px;letter-spacing:-0.247px;top:58.6px;">Notes</div>
<div class="t lnk" id="l2" style="left:752.63px;letter-spacing:-0.236px;top:58.6px;">My Charts</div>
<div class="t lnk" id="l3" style="left:829.79px;letter-spacing:-0.088px;top:60.1px;">Alerts</div>
<div class="t lnk" id="l4" style="left:882.88px;letter-spacing:-0.231px;top:60.1px;">Watch</div>
<div class="t lnk" id="l5" style="left:937.88px;letter-spacing:0.060px;top:60.1px;">Actions</div>
<div class="t lnk" id="l6" style="left:992.63px;letter-spacing:0.110px;top:60.6px;">Help</div>
<!-- toolbar -->
<div style="position:absolute;left:17px;top:84px;width:154px;height:21px;background:#dedede;border-radius:4px;"></div>
<div class="t" id="sym" style="left:38.08px;letter-spacing:-0.181px;top:89.5px;font-size:11px;font-style:italic;color:#7b7b7b;">Symbol...</div>
<div class="t tb" id="t1" style="left:179.56px;letter-spacing:0.000px;transform:scaleX(1.0267);transform-origin:0 0;top:89.7px;">Daily</div>
<div class="t tb" id="t2" style="left:232.84px;letter-spacing:0.000px;transform:scaleX(1.0909);transform-origin:0 0;top:89.7px;">6-Month</div>
<div class="t tb" id="t3" style="left:347.40px;letter-spacing:0.000px;transform:scaleX(1.0387);transform-origin:0 0;top:89.7px;">Indicators</div>
<div class="t tb" id="t4" style="left:415.86px;letter-spacing:0.000px;transform:scaleX(1.0072);transform-origin:0 0;top:89.7px;">Compare</div>
<div class="t tb" id="t5" style="left:480.29px;letter-spacing:0.000px;transform:scaleX(1.0040);transform-origin:0 0;top:89.7px;">f(x)</div>
<div class="t tb" id="t6" style="left:511.06px;letter-spacing:0.000px;transform:scaleX(1.0398);transform-origin:0 0;top:89.7px;">1x1</div>
<div class="t tb" id="t7" style="left:883.48px;letter-spacing:0.000px;transform:scaleX(0.9784);transform-origin:0 0;top:89.7px;">Templates</div>
<div class="vr" style="left:973px;top:86px;height:18px;background:#d3d3d3;"></div>
<!-- y axis labels -->
<div class="t ax" style="left:1009px;top:113.7px;">72.00</div>
<div class="t ax" style="left:1009px;top:155.7px;">71.00</div>
<div class="t ax" style="left:1009px;top:197.7px;">70.00</div>
<div class="t ax" style="left:1009px;top:239.7px;">69.00</div>
<div class="t ax" style="left:1009px;top:282.7px;">68.00</div>
<div class="t ax" style="left:1009px;top:324.7px;">67.00</div>
<div class="t ax" style="left:1009px;top:366.7px;">66.00</div>
<div class="t ax" style="left:1009px;top:408.7px;">65.00</div>
<div class="t ax" style="left:1009px;top:450.7px;">64.00</div>
<div class="t ax" style="left:1009px;top:492.7px;">63.00</div>
<div class="t ax" style="left:1009px;top:583.7px;">100K</div>
<!-- 200K and 0K are mostly hidden behind tags -->
<div class="t ax" style="left:1009px;top:538.8px;clip-path:inset(0 0 6.8px 0);">200K</div>
<div class="t ax" style="left:1009px;top:630px;clip-path:inset(6.7px 0 0 0);">0K</div>
<div class="t tag" style="left:999px;width:34px;top:466.6px;">63.61</div>
<div class="t tag" style="left:999px;width:33px;top:545.5px;">182K</div>
<div class="t tag" style="left:999px;width:27.3px;top:621.9px;">18K</div>
<!-- x labels -->
<div class="t xl" style="left:41.7px;top:646.7px;">Jun 30</div>
<div class="t xl" style="left:108.6px;top:646.7px;">Jul 14</div>
<div class="t xl" style="left:183px;top:646.7px;">Jul 28</div>
<div class="t xl" style="left:257.3px;top:646.7px;">Aug 11</div>
<div class="t xl" style="left:331.7px;top:646.7px;">Aug 25</div>
<div class="t xl" style="left:398.6px;top:646.7px;">Sep 8</div>
<div class="t xl" style="left:472.9px;top:646.7px;">Sep 22</div>
<div class="t xl" style="left:547.3px;top:646.7px;">Oct 6</div>
<div class="t xl" style="left:621.6px;top:646.7px;">Oct 20</div>
<div class="t xl" style="left:696px;top:646.7px;">Nov 3</div>
<div class="t xl" style="left:770.3px;top:646.7px;">Nov 17</div>
<div class="t xl" style="left:837.2px;top:646.7px;">Dec 1</div>
<div class="t xl" style="left:911.6px;top:646.7px;">Dec 15</div>
<!-- range buttons -->
<div class="t rg" id="r1" style="left:63.45px;letter-spacing:0.000px;transform:scaleX(1.0692);transform-origin:0 0;top:670px;">1D</div>
<div class="t rg" id="r2" style="left:91.50px;letter-spacing:0.000px;transform:scaleX(1.0470);transform-origin:0 0;top:670px;">5D</div>
<div class="t rg" id="r3" style="left:119.87px;letter-spacing:0.000px;transform:scaleX(1.1875);transform-origin:0 0;top:670px;">1M</div>
<div class="t rg" id="r4" style="left:151.49px;letter-spacing:0.000px;transform:scaleX(1.0803);transform-origin:0 0;top:670px;">2M</div>
<div class="t rg" id="r5" style="left:182.53px;letter-spacing:0.000px;transform:scaleX(1.1010);transform-origin:0 0;top:670px;">3M</div>
<div class="t rg" id="r6" style="left:212.37px;letter-spacing:0.000px;transform:scaleX(1.1868);transform-origin:0 0;top:670px;color:#0d6fd0;">6M</div>
<div class="t rg" id="r7" style="left:244.43px;letter-spacing:0.000px;transform:scaleX(1.0675);transform-origin:0 0;top:670px;">9M</div>
<div class="t rg" id="r8" style="left:274.51px;letter-spacing:0.000px;transform:scaleX(0.9445);transform-origin:0 0;top:670px;">1Y</div>
<div class="t rg" id="r9" style="left:302.65px;letter-spacing:0.000px;transform:scaleX(0.9758);transform-origin:0 0;top:670px;">2Y</div>
<div class="t rg" id="r10" style="left:329.54px;letter-spacing:0.000px;transform:scaleX(1.0333);transform-origin:0 0;top:670px;">3Y</div>
<div class="t rg" id="r11" style="left:356.56px;letter-spacing:0.000px;transform:scaleX(1.0541);transform-origin:0 0;top:670px;">5Y</div>
<div class="t rg" id="r12" style="left:384.60px;letter-spacing:0.000px;transform:scaleX(1.0196);transform-origin:0 0;top:670px;">10Y</div>
<div class="t rg" id="r13" style="left:418.74px;letter-spacing:0.000px;transform:scaleX(1.0203);transform-origin:0 0;top:670px;">20Y</div>
<div class="t rg" id="r14" style="left:452.51px;letter-spacing:0.000px;transform:scaleX(1.0482);transform-origin:0 0;top:670px;">Max</div>
<div class="t rg" id="r15" style="left:987.69px;letter-spacing:0.000px;transform:scaleX(1.0045);transform-origin:0 0;top:671.4px;font-size:10.6px;">%</div>
<div class="t rg" id="r16" style="left:1013.20px;letter-spacing:0.000px;transform:scaleX(1.0499);transform-origin:0 0;top:670px;">log</div>
<div class="vr" style="left:976px;top:665px;height:22px;background:#d3d3d3;"></div>
<svg width="1055" height="713" viewBox="0 0 1055 713" style="position:absolute;left:0;top:0;pointer-events:none" fill="none" stroke-linecap="round" stroke-linejoin="round">
<!-- header icons (blue) -->
<g stroke="#2a68ad" stroke-width="1.25">
  <!-- notes/edit -->
  <path d="M735.6,59.3 H732.9 Q731.2,59.3 731.2,61 V68.2 Q731.2,69.9 732.9,69.9 H740.2 Q741.9,69.9 741.9,68.2 V64.6"/>
  <path d="M735.2,66.1 L735.7,63.7 L741.2,58.3 Q742.1,57.6 743,58.5 Q743.8,59.4 743,60.3 L737.6,65.6 Z"/>
</g>
<g stroke="#1660a9">
  <!-- my charts circle plus -->
  <circle cx="813.6" cy="63.9" r="6.2" stroke-width="1.4"/>
  <path d="M810.5,63.9 H816.7 M813.6,60.8 V67" stroke-width="1.55"/>
  <!-- star -->
  <path d="M922.8,58.1 L924.7,62.2 L929.2,62.8 L925.9,65.9 L926.8,70.3 L922.8,68.1 L918.8,70.3 L919.7,65.9 L916.4,62.8 L920.9,62.2 Z" stroke-width="1.35" stroke-linejoin="miter"/>
  <!-- help circle -->
  <circle cx="1026.3" cy="64.9" r="6.1" stroke-width="1.3"/>
  <!-- full screen arrow -->
  <path d="M1024.5,46.2 L1031.3,39.7 M1027.9,39.5 H1031.6 V43.2" stroke-width="1.6" stroke-linecap="butt" stroke-linejoin="miter"/>
</g>
<!-- alerts -->
<circle cx="866.7" cy="64.1" r="6.35" fill="#fda31c"/>
<rect x="865.7" y="60" width="2.1" height="6" rx="0.6" fill="#fff"/>
<rect x="865.7" y="67.2" width="2.1" height="2" rx="0.6" fill="#fff"/>
<!-- actions caret -->
<path d="M980.3,62.4 H986.7 L983.5,66 Z" fill="#174f8c"/>
<!-- search -->
<g stroke="#6b6b6b" stroke-width="1">
  <circle cx="25.3" cy="93.5" r="4.1"/>
  <path d="M28.5,96.6 L32.4,100.3"/>
</g>
<!-- toolbar chevrons -->
<g stroke="#333" stroke-width="1.1" stroke-linecap="butt">
  <path d="M213.5,93.9 L216.4,96.5 L219.3,93.9"/>
  <path d="M285.5,93.9 L288.4,96.5 L291.3,93.9"/>
  <path d="M325.4,93.9 L328.3,96.5 L331.2,93.9"/>
  <path d="M537.4,93.9 L540.3,96.5 L543.2,93.9"/>
</g>
<!-- ohlc icon -->
<g stroke="#333" stroke-width="1.1" stroke-linecap="butt">
  <path d="M308.5,89.7 V99.7 M305.7,97.5 H308.5 M308.5,91.4 H311.6"/>
  <path d="M313.5,89.7 V99.7 M310.9,94.2 H313.5 M313.5,96.6 H316.9"/>
</g>
<!-- gear -->
<g stroke="#222" stroke-width="1.1">
  <path d="M957.35,89.89 L957.47,88.49 L959.53,88.49 L959.65,89.89 L960.94,90.43 L962.02,89.52 L963.48,90.98 L962.57,92.06 L963.11,93.35 L964.51,93.47 L964.51,95.53 L963.11,95.65 L962.57,96.94 L963.48,98.02 L962.02,99.48 L960.94,98.57 L959.65,99.11 L959.53,100.51 L957.47,100.51 L957.35,99.11 L956.06,98.57 L954.98,99.48 L953.52,98.02 L954.43,96.94 L953.89,95.65 L952.49,95.53 L952.49,93.47 L953.89,93.35 L954.43,92.06 L953.52,90.98 L954.98,89.52 L956.06,90.43 Z" stroke-linejoin="round"/>
  <circle cx="958.5" cy="94.5" r="1.75"/>
</g>
<!-- double chevron up -->
<g stroke="#222" stroke-width="1.5" stroke-linejoin="miter">
  <path d="M986.4,93.7 L990.2,90.2 L994,93.7"/>
  <path d="M986.4,98.5 L990.2,95 L994,98.5"/>
</g>
<!-- moon -->
<path d="M1017.4,88.4 A6.3,6.3 0 1 0 1022.5,97.2 A5.6,5.6 0 0 1 1017.4,88.4 Z" stroke="#222" stroke-width="1.4"/>
<!-- LEFT TOOLBAR -->
<g stroke="#9a9a9a" stroke-width="1">
  <path d="M41,124.3 L43.8,127.3 L41,130.3"/>
  <path d="M41,150.8 L43.8,153.8 L41,156.8"/>
  <path d="M41,177.3 L43.8,180.3 L41,183.3"/>
  <path d="M41,203.8 L43.8,206.8 L41,209.8"/>
  <path d="M41,230.7 L43.8,233.7 L41,236.7"/>
  <path d="M41,257.5 L43.8,260.5 L41,263.5"/>
</g>
<g stroke="#222" stroke-width="1.1">
  <!-- trend line -->
  <path d="M24.1,130.6 L30.8,124"/>
  <circle cx="22.8" cy="131.9" r="1.7"/><circle cx="32.1" cy="122.7" r="1.7"/>
  <!-- fib -->
  <circle cx="23.7" cy="148.3" r="1.6"/><circle cx="21.2" cy="158" r="1.6"/>
  <path d="M23.3,149.9 L21.6,156.4"/>
  <path d="M26.2,148.6 H34.9 M26.2,151.9 H34.9 M26.2,155.2 H34.9 M26.2,158.3 H34.9" stroke="#444" stroke-width="1"/>
  <!-- ellipse/diamond -->
  <ellipse cx="27.4" cy="180.3" rx="6.75" ry="5.75"/>
  <circle cx="27.4" cy="174.55" r="1.55" fill="#fff"/><circle cx="27.4" cy="186.05" r="1.55" fill="#fff"/>
  <circle cx="20.65" cy="180.3" r="1.55" fill="#fff"/><circle cx="34.15" cy="180.3" r="1.55" fill="#fff"/>
  <!-- up arrow -->
  <path d="M27.4,202.1 L33,208.8 H30.1 V213.4 H24.7 V208.8 H21.8 Z" stroke-linejoin="miter"/>
  <!-- circle 1 -->
  <circle cx="27.4" cy="233.2" r="6.95"/>
  <!-- measure -->
  <path d="M22,252.6 V264.2 M32.9,256.2 V267.5 M22.6,259.3 H31.6 M29.2,256.8 L31.8,259.3 L29.2,261.8"/>
  <circle cx="32.9" cy="254.6" r="1.6"/><circle cx="22" cy="265.9" r="1.6"/>
</g>
<g stroke="#222" stroke-width="1.3">
  <!-- magnet -->
  <path d="M20.7,302.3 V293.3 A6.75,6.75 0 0 1 34.2,293.3 V302.3 H30.4 V293.4 A2.95,2.95 0 0 0 24.5,293.4 V302.3 Z" stroke-linejoin="miter"/>
  <path d="M20.7,298.8 H24.5 M30.4,298.8 H34.2" stroke-width="1.1"/>
  <!-- lock -->
  <rect x="21.1" y="320.3" width="12.5" height="7.8" stroke-linejoin="miter"/>
  <path d="M23.9,320 V318.4 A3.6,3.6 0 0 1 30.9,317.3"/>
  <!-- trash -->
  <path d="M20.9,405.2 H33.8 M22.1,405.4 V414 Q22.1,416.2 24.3,416.2 H30.4 Q32.6,416.2 32.6,414 V405.4 M24.5,405 Q24.5,402.5 27.3,402.5 Q30.2,402.5 30.2,405" stroke-width="1.4"/>
  <!-- zoom in -->
  <circle cx="26.4" cy="434.4" r="5.3"/>
  <path d="M30.3,438.4 L33.5,441.7 M23.9,434.4 H28.9 M26.4,431.9 V436.9"/>
  <!-- zoom out -->
  <circle cx="26.4" cy="461.4" r="5.3"/>
  <path d="M30.3,465.4 L33.5,468.7 M23.9,461.4 H28.9"/>
  <!-- collapse -->
  <path d="M26.8,492.3 L23,496.1 L26.8,499.9 M32,492.3 L28.2,496.1 L32,499.9" stroke-width="1.2" stroke-linejoin="miter"/>
</g>
<g stroke="#bdbdbd" stroke-width="1.2">
  <!-- undo -->
  <path d="M22.6,344 A6.2,6.2 0 1 1 21.6,351.3"/>
  <path d="M20,341.6 V345.6 H24"/>
  <!-- redo -->
  <path d="M31.9,370.3 A6.2,6.2 0 1 0 33,377.6"/>
  <path d="M34.6,367.9 V371.9 H30.6"/>
</g>
<!-- toolbar separators -->
<g fill="#dcdcdc">
  <rect x="9" y="277" width="36" height="1"/>
  <rect x="9" y="391" width="36" height="1"/>
  <rect x="9" y="479.5" width="36" height="1"/>
</g>
<!-- calendar -->
<g stroke="#222" stroke-width="1.2">
  <rect x="491.3" y="671.6" width="10.8" height="9.6" rx="0.8"/>
  <path d="M491.3,674.7 H502.1 M494.1,669.8 V672 M499.3,669.8 V672"/>
</g>
<!-- double chevron down -->
<g stroke="#222" stroke-width="1.3" stroke-linejoin="miter">
  <path d="M956.4,672.6 L959.5,675.6 L962.6,672.6"/>
  <path d="M956.4,676.6 L959.5,679.6 L962.6,676.6"/>
</g>
</svg>
<div class="t" style="left:1023px;top:59.6px;font-size:10.8px;font-weight:bold;color:#1660a9;">?</div>
<div class="t" style="left:24.2px;top:227.5px;font-size:10.5px;font-family:'Liberation Mono',monospace;color:#222;">1</div>

</body></html>
